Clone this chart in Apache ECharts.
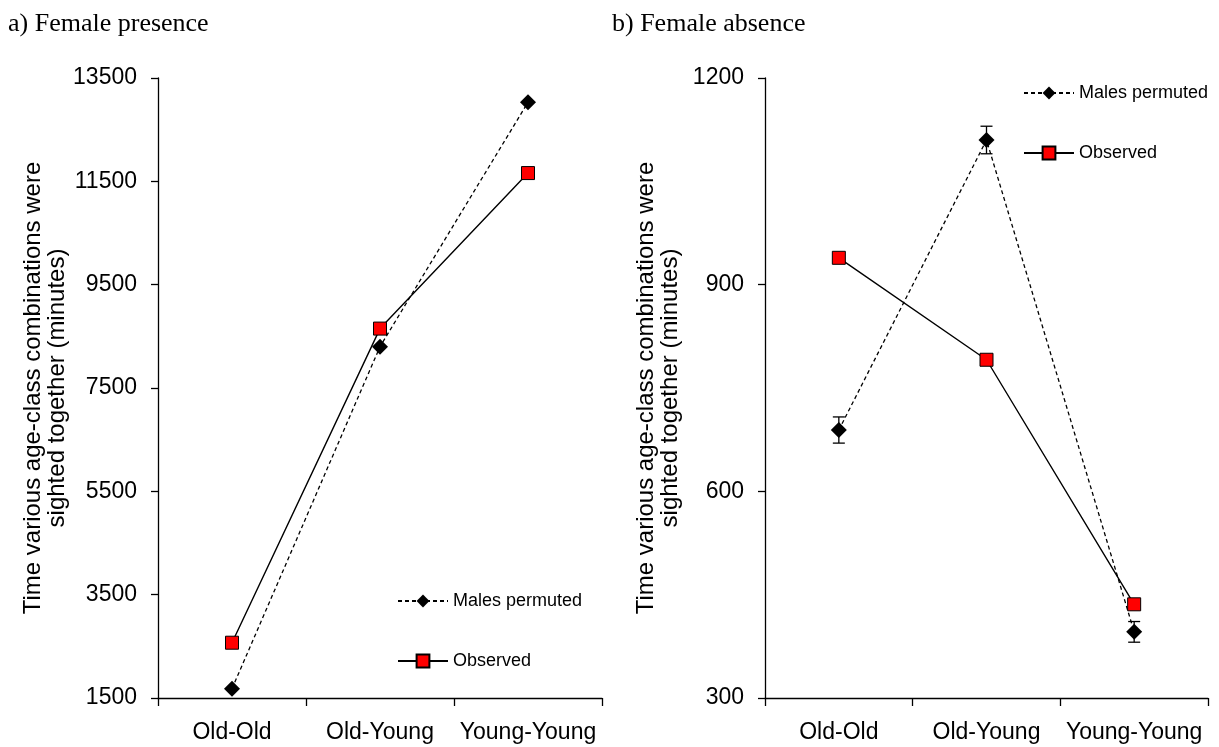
<!DOCTYPE html>
<html>
<head>
<meta charset="utf-8">
<script src="https://cdn.jsdelivr.net/npm/echarts@6/dist/echarts.min.js"></script>
<style>
  html, body { margin: 0; padding: 0; background: #fff; }
  #chart { width: 1219px; height: 747px; }
</style>
</head>
<body>
<div id="chart"></div>
<script>
// Age-class pairings on the x axis
const categories = ['Old-Old', 'Old-Young', 'Young-Young'];

// a) Female presence (minutes)
const presencePermuted = [1680, 8300, 13030];
const presenceObserved = [2570, 8650, 11660];
const presenceTicks = { min: 1500, max: 13500, interval: 2000 };

// b) Female absence (minutes)
const absencePermuted = [689, 1110, 396];
const absencePermutedErr = [19, 20, 15];
const absenceObserved = [939, 791, 436];
const absenceTicks = { min: 300, max: 1200, interval: 300 };

const panelTitles = ['a) Female presence', 'b) Female absence'];
const yTitle = 'Time various age-class combinations were\nsighted together (minutes)';
const seriesNames = ['Males permuted', 'Observed'];

const FONT = 'Liberation Sans, Arial, sans-serif';
const SERIF = 'Liberation Serif, Times New Roman, serif';
const axisLine = { show: true, lineStyle: { color: '#000', width: 1.3 } };

function xAxisFor(grid) {
  return {
    type: 'category', gridIndex: grid, data: categories, boundaryGap: true,
    axisLine: axisLine,
    axisTick: { show: true, length: 8, lineStyle: { color: '#000', width: 1.3 } },
    axisLabel: { color: '#000', fontFamily: FONT, fontSize: 23, margin: 23, interval: 0 },
    splitLine: { show: false }
  };
}
function yAxisFor(grid, t, gap) {
  return {
    type: 'value', gridIndex: grid, min: t.min, max: t.max, interval: t.interval,
    axisLine: axisLine,
    axisTick: { show: true, length: 7, lineStyle: { color: '#000', width: 1.3 } },
    axisLabel: { color: '#000', fontFamily: FONT, fontSize: 23, margin: 21,
                 formatter: v => String(v) },
    splitLine: { show: false },
    name: yTitle, nameLocation: 'middle', nameRotate: 90, nameGap: gap,
    nameTextStyle: { color: '#000', fontFamily: FONT, fontSize: 24, lineHeight: 24, align: 'center' }
  };
}
function permutedSeries(grid, data) {
  return {
    name: seriesNames[0], type: 'line', xAxisIndex: grid, yAxisIndex: grid, data: data,
    symbol: 'diamond', symbolSize: 16,
    itemStyle: { color: '#000', borderColor: '#000', borderWidth: 0 },
    lineStyle: { color: '#000', width: 1.3, type: [4, 3] },
    z: 3, animation: false
  };
}
function observedSeries(grid, data) {
  return {
    name: seriesNames[1], type: 'line', xAxisIndex: grid, yAxisIndex: grid, data: data,
    symbol: 'rect', symbolSize: 13,
    itemStyle: { color: '#ff0000', borderColor: '#000', borderWidth: 1 },
    lineStyle: { color: '#000', width: 1.4, type: 'solid' },
    z: 4, animation: false
  };
}
function legendFor(left, top) {
  return {
    data: seriesNames, orient: 'vertical', left: left, top: top,
    itemWidth: 50, itemHeight: 16, itemGap: 42,
    textStyle: { color: '#000', fontFamily: FONT, fontSize: 18 },
    selectedMode: false
  };
}

// vertical error bars with caps for the permuted means
const errorBars = {
  type: 'custom', xAxisIndex: 1, yAxisIndex: 1, z: 2, silent: true, animation: false,
  data: absencePermuted.map((v, i) => [i, v - absencePermutedErr[i], v + absencePermutedErr[i]]),
  renderItem: function (params, api) {
    const lo = api.coord([api.value(0), api.value(1)]);
    const hi = api.coord([api.value(0), api.value(2)]);
    const w = 6;
    const style = { stroke: '#000', lineWidth: 1.3 };
    return {
      type: 'group',
      children: [
        { type: 'line', shape: { x1: lo[0], y1: lo[1], x2: hi[0], y2: hi[1] }, style: style },
        { type: 'line', shape: { x1: lo[0] - w, y1: lo[1], x2: lo[0] + w, y2: lo[1] }, style: style },
        { type: 'line', shape: { x1: hi[0] - w, y1: hi[1], x2: hi[0] + w, y2: hi[1] }, style: style }
      ]
    };
  }
};

const chart = echarts.init(document.getElementById('chart'), null, { renderer: 'canvas' });
chart.setOption({
  backgroundColor: '#fff',
  animation: false,
  title: [
    { text: panelTitles[0], left: 3, top: 6,
      textStyle: { color: '#000', fontFamily: SERIF, fontSize: 26, fontWeight: 'normal' } },
    { text: panelTitles[1], left: 607, top: 6,
      textStyle: { color: '#000', fontFamily: SERIF, fontSize: 26, fontWeight: 'normal' } }
  ],
  legend: [legendFor(392, 587), legendFor(1018, 79)],
  grid: [
    { left: 158, top: 78, width: 444, height: 620 },
    { left: 765, top: 78, width: 443, height: 620 }
  ],
  xAxis: [xAxisFor(0), xAxisFor(1)],
  yAxis: [yAxisFor(0, presenceTicks, 79), yAxisFor(1, absenceTicks, 83)],
  series: [
    permutedSeries(0, presencePermuted),
    observedSeries(0, presenceObserved),
    errorBars,
    permutedSeries(1, absencePermuted),
    observedSeries(1, absenceObserved)
  ]
});
</script>
</body>
</html>
